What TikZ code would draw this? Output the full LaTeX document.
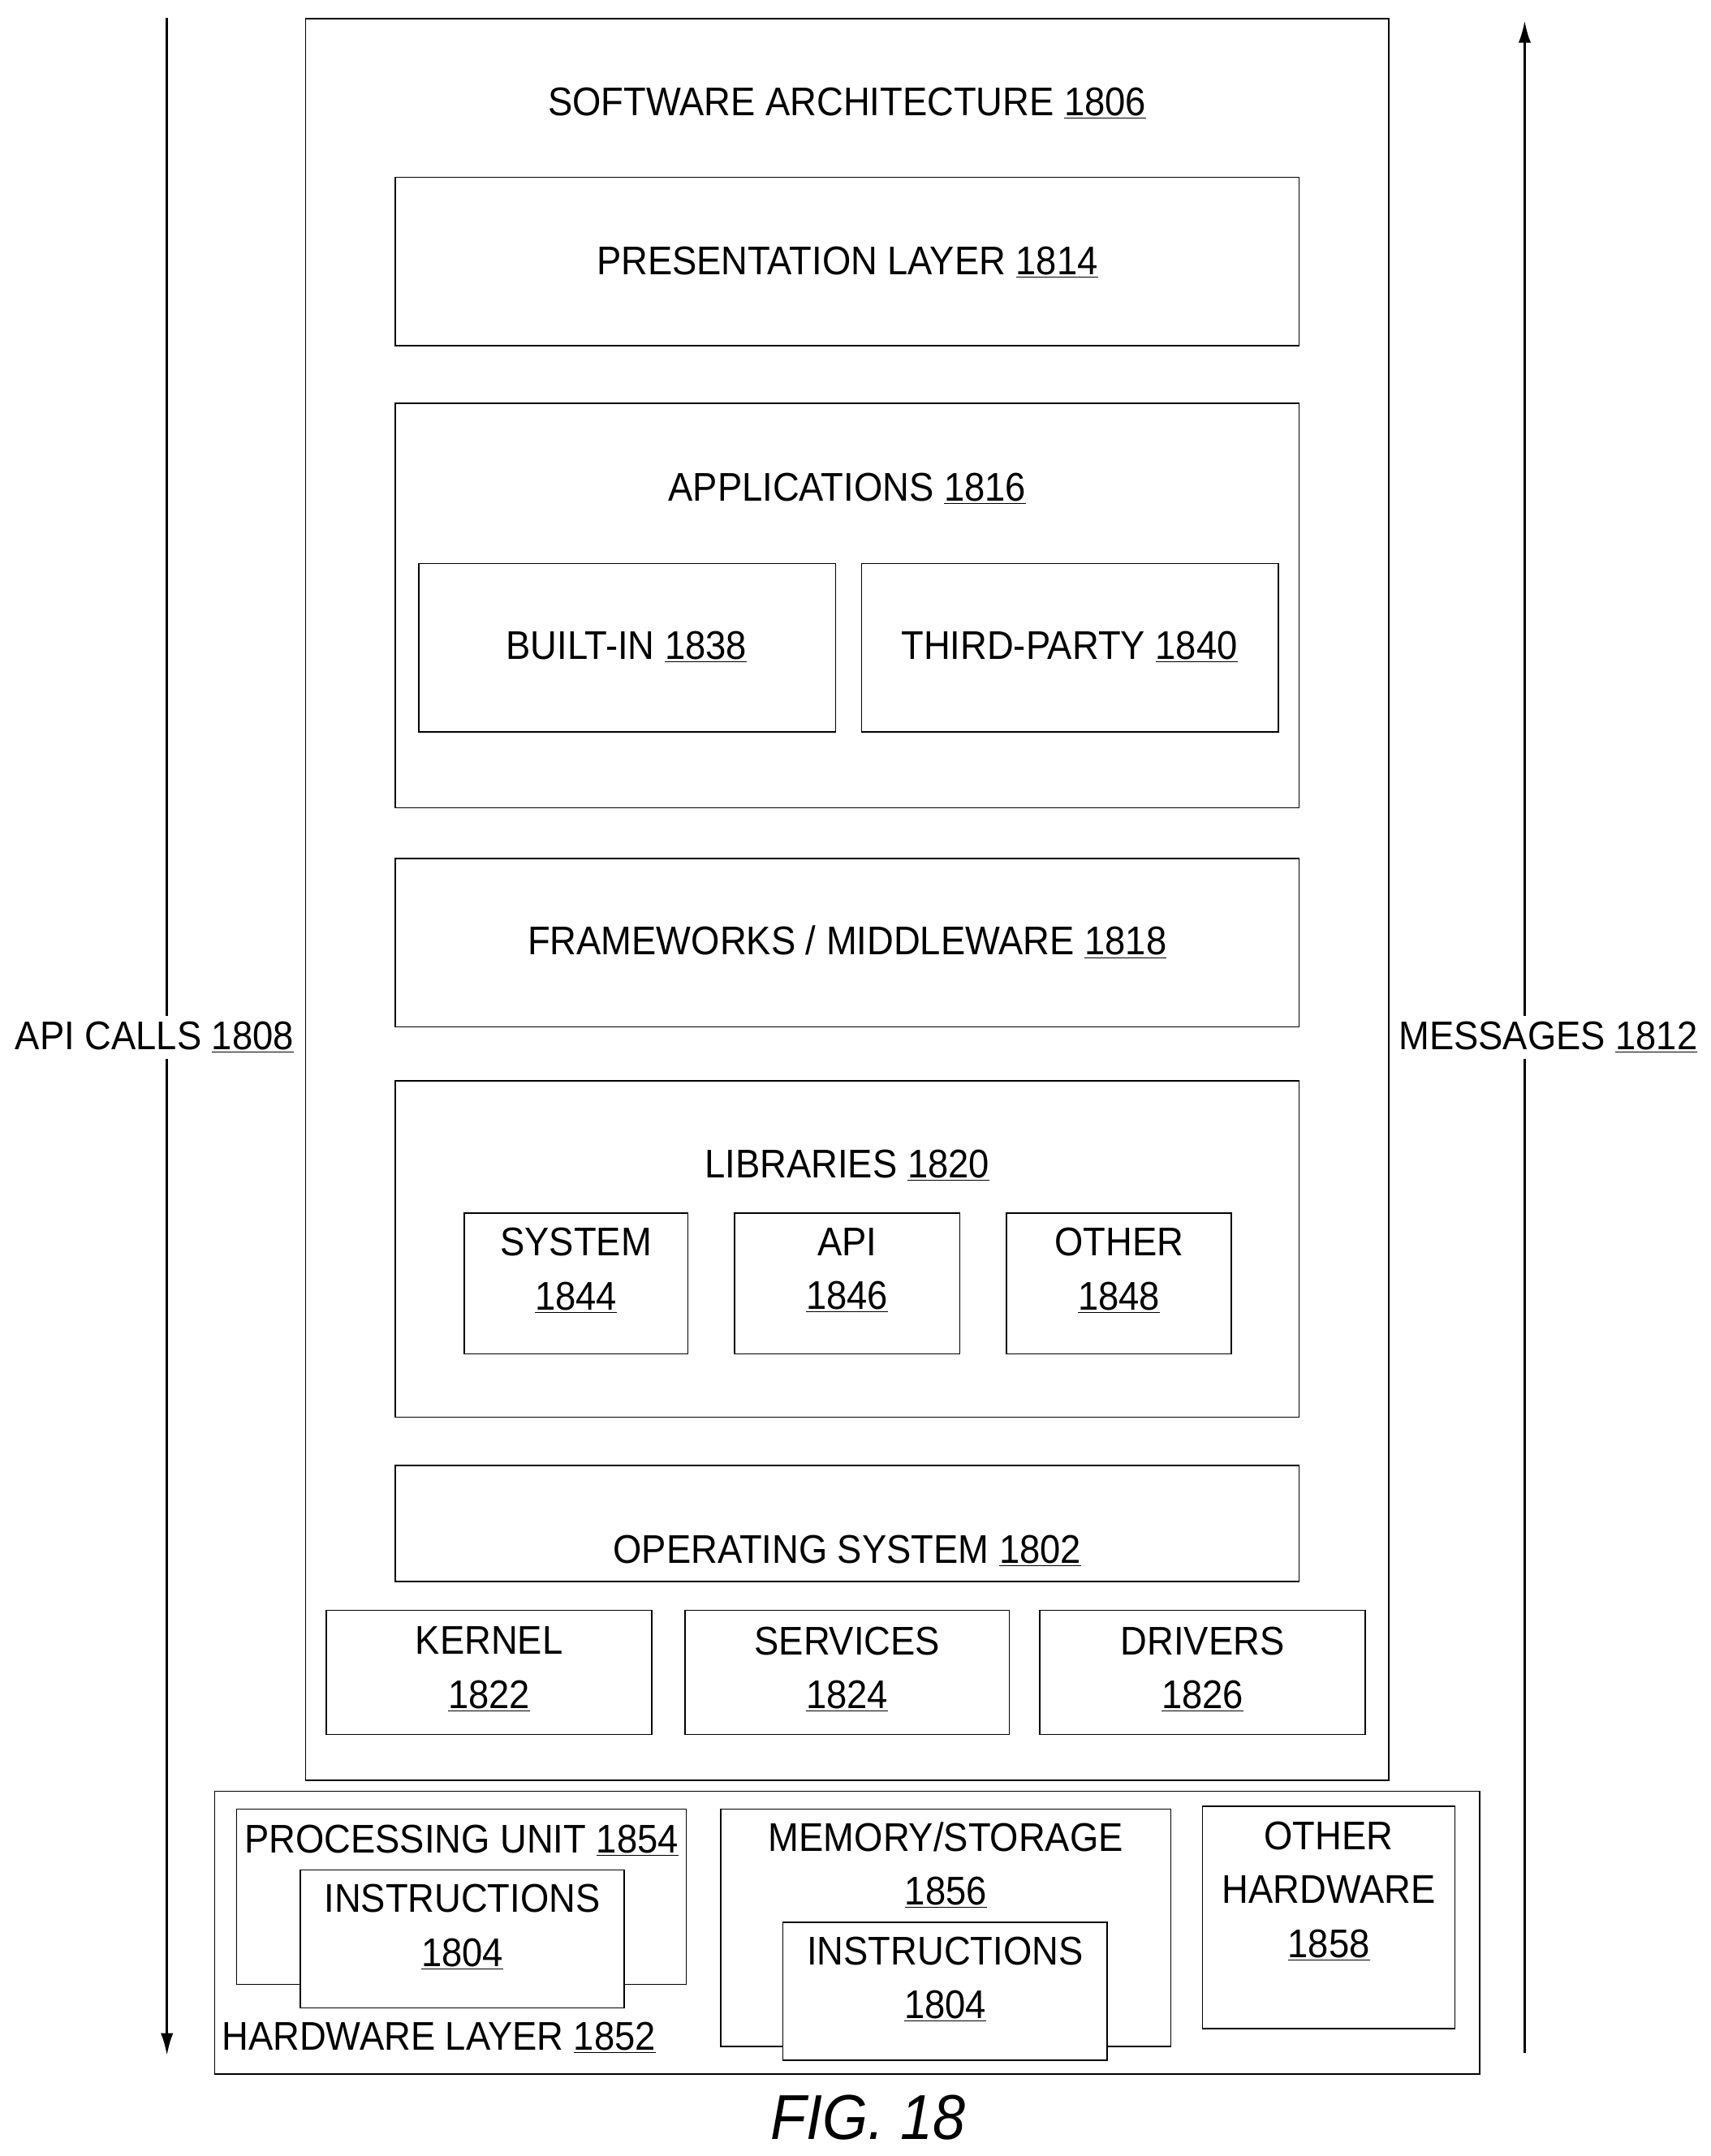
\documentclass[tikz,border=0pt]{standalone}
\usepackage{fontspec}
\setmainfont{Liberation Sans}[FakeStretch=0.92]
\usetikzlibrary{arrows.meta}
\begin{document}
\begin{tikzpicture}[x=1pt,y=-1pt,
  box/.style={draw,line width=0.9pt,inner sep=0pt},
  lbl/.style={font=\fontsize{29}{39}\selectfont,align=center,inner sep=1pt},
  arr/.style={line width=1.6pt,-{Latex[length=16pt,width=9pt]}}]
\useasboundingbox (0,0) rectangle (1240,1563);
\def\bx#1#2#3#4#5{\node[box,minimum width={#4-#2-1},minimum height={#5-#3-1}] (#1) at ({(#2+#4)/2},{(#3+#5)/2}) {};}
% arrows
\coordinate (la) at (121,13); \coordinate (lb) at (121,1490);
\coordinate (ra) at (1105,1488); \coordinate (rb) at (1105,15);
\node[lbl,inner sep=4pt] (api) at (112,752) {API CALLS \underline{1808}};
\node[lbl,inner sep=4pt] (msg) at (1122,752) {MESSAGES \underline{1812}};
\draw[line width=1.6pt] (la) -- (la |- api.north);
\draw[arr] (la |- api.south) -- (lb);
\draw[line width=1.6pt] (ra) -- (ra |- msg.south);
\draw[arr] (ra |- msg.north) -- (rb);
% software architecture
\bx{sa}{221}{13}{1007}{1291}
\node[lbl] (sat) at (614,75) {SOFTWARE ARCHITECTURE \underline{1806}};
\bx{pres}{286}{128}{942}{251}
\node[lbl] (prest) at (614,190) {PRESENTATION LAYER \underline{1814}};
\bx{app}{286}{292}{942}{586}
\node[lbl] (appt) at (614,354) {APPLICATIONS \underline{1816}};
\bx{bi}{303}{408}{606}{531}
\node[lbl] (bit) at (454,469) {BUILT-IN \underline{1838}};
\bx{tp}{624}{408}{927}{531}
\node[lbl] (tpt) at (775,469) {THIRD-PARTY \underline{1840}};
\bx{fw}{286}{622}{942}{745}
\node[lbl] (fwt) at (614,683) {FRAMEWORKS / MIDDLEWARE \underline{1818}};
\bx{lib}{286}{783}{942}{1028}
\node[lbl] (libt) at (614,845) {LIBRARIES \underline{1820}};
\bx{sys}{336}{879}{499}{982}
\node[lbl] (syst) at (417.5,921) {SYSTEM\\\underline{1844}};
\bx{lapi}{532}{879}{696}{982}
\node[lbl] (lapit) at (614,921) {API\\\underline{1846}};
\bx{oth}{729}{879}{893}{982}
\node[lbl] (otht) at (811,921) {OTHER\\\underline{1848}};
\bx{os}{286}{1062}{942}{1147}
\node[lbl] (ost) at (614,1124) {OPERATING SYSTEM \underline{1802}};
\bx{ker}{236}{1167}{473}{1258}
\node[lbl] (kert) at (354.5,1210) {KERNEL\\\underline{1822}};
\bx{ser}{496}{1167}{732}{1258}
\node[lbl] (sert) at (614,1210) {SERVICES\\\underline{1824}};
\bx{drv}{753}{1167}{990}{1258}
\node[lbl] (drvt) at (871.5,1210) {DRIVERS\\\underline{1826}};
% hardware
\bx{hw}{155}{1298}{1073}{1504}
\bx{pu}{171}{1311}{498}{1439}
\node[lbl] (put) at (334.5,1334) {PROCESSING UNIT \underline{1854}};
\node[box,fill=white,minimum width=235,minimum height=100] (ins1) at (335,1405.5) {};
\node[lbl] (ins1t) at (335,1397) {INSTRUCTIONS\\\underline{1804}};
\node[lbl] (hwt) at (318,1477) {HARDWARE LAYER \underline{1852}};
\bx{mem}{522}{1311}{849}{1484}
\node[lbl] (memt) at (685.5,1352) {MEMORY/STORAGE\\\underline{1856}};
\node[box,fill=white,minimum width=235,minimum height=100] (ins2) at (685,1443.5) {};
\node[lbl] (ins2t) at (685,1435) {INSTRUCTIONS\\\underline{1804}};
\bx{ohw}{871}{1309}{1055}{1471}
\node[lbl] (ohwt) at (963,1371) {OTHER\\HARDWARE\\\underline{1858}};
\node[font=\fontsize{46}{50}\selectfont\itshape] (fig) at (629,1535) {FIG. 18};
\end{tikzpicture}
\end{document}
